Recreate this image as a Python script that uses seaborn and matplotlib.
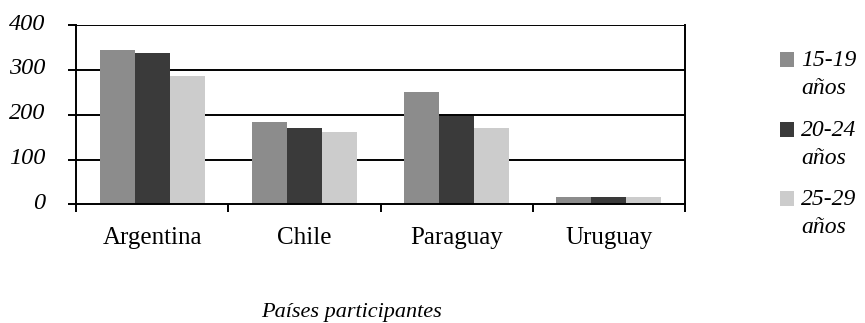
import matplotlib
matplotlib.use("Agg")
import matplotlib.pyplot as plt
import matplotlib.transforms as mtransforms
import seaborn as sns
import pandas as pd
from matplotlib.patches import Patch, Rectangle
from matplotlib.legend_handler import HandlerPatch

# Participants by country and age group
paises = ["Argentina", "Chile", "Paraguay", "Uruguay"]
grupos = ["15-19\naños", "20-24\naños", "25-29\naños"]
edad_15_19 = [344, 184, 251, 17]
edad_20_24 = [337, 170, 198, 17]
edad_25_29 = [286, 161, 170, 17]
colores = ["#8c8c8c", "#3a3a3a", "#cccccc"]
yticks = [0, 100, 200, 300, 400]

df = pd.DataFrame({
    "pais": paises * 3,
    "grupo": [grupos[0]] * 4 + [grupos[1]] * 4 + [grupos[2]] * 4,
    "valor": edad_15_19 + edad_20_24 + edad_25_29,
})

sns.set_theme(style="white")
plt.rcParams["font.family"] = ["Liberation Serif", "DejaVu Serif"]
plt.rcParams["text.color"] = "black"
plt.rcParams["xtick.color"] = "black"
plt.rcParams["ytick.color"] = "black"
plt.rcParams["axes.labelcolor"] = "black"

fig = plt.figure(figsize=(8.65, 3.23), dpi=100)
ax = fig.add_axes([0.0879, 0.3669, 0.7040, 0.5557])
ax.set_axisbelow(True)

sns.barplot(data=df, x="pais", y="valor", hue="grupo", order=paises,
            hue_order=grupos, palette=colores, width=0.69, saturation=1,
            linewidth=0, ax=ax, legend=False)

ax.set_ylim(0, 400)
ax.set_xlim(-0.5, len(paises) - 0.5)
ax.set_yticks(yticks)
ax.set_yticklabels([str(v) for v in yticks], fontstyle="italic", fontsize=17.5)
for y in yticks[1:]:
    ax.axhline(y, color="black", lw=1.4, zorder=0.5)

# category boundaries carry the tick marks, labels sit at the centres
ax.set_xticks([i - 0.5 for i in range(len(paises) + 1)])
ax.set_xticklabels([])
ax.set_xticks(range(len(paises)), minor=True)
ax.set_xticklabels(paises, minor=True, fontsize=18)
ax.tick_params(axis="x", which="minor", length=0, pad=16)
ax.tick_params(axis="x", which="major", direction="out", length=6,
               width=1.4, color="black", bottom=True)
ax.tick_params(axis="y", direction="out", length=6, width=1.4,
               color="black", left=True, pad=16)

# raise the value labels slightly above their gridlines
lift = mtransforms.ScaledTranslation(0, 2.5 / 72, fig.dpi_scale_trans)
for lab in ax.get_yticklabels():
    lab.set_transform(lab.get_transform() + lift)

for side in ["left", "bottom", "right"]:
    ax.spines[side].set_visible(True)
    ax.spines[side].set_color("black")
    ax.spines[side].set_linewidth(1.4)
ax.spines["top"].set_visible(False)

ax.set_xlabel("Países participantes", fontstyle="italic", fontsize=16,
              labelpad=39, x=0.453)
ax.set_ylabel("")

leg_size = 17
line_step = 10.5  # points to lift each square up to the first label line


def square_on_first_line(legend, orig_handle, xdescent, ydescent,
                         width, height, fontsize):
    return Rectangle((-xdescent, -ydescent + line_step), width, height)


handles = [Patch(facecolor=c, edgecolor="none") for c in colores]
leg = fig.legend(handles, grupos, loc="upper left",
                 bbox_to_anchor=(0.902, 0.845), frameon=False,
                 prop={"style": "italic", "size": leg_size},
                 handlelength=0.6, handleheight=0.6, handletextpad=0.3,
                 labelspacing=0.86, borderpad=0, borderaxespad=0,
                 handler_map={Patch: HandlerPatch(patch_func=square_on_first_line)})
for t in leg.get_texts():
    t.set_linespacing(1.45)

fig.savefig("out.png", dpi=100)
